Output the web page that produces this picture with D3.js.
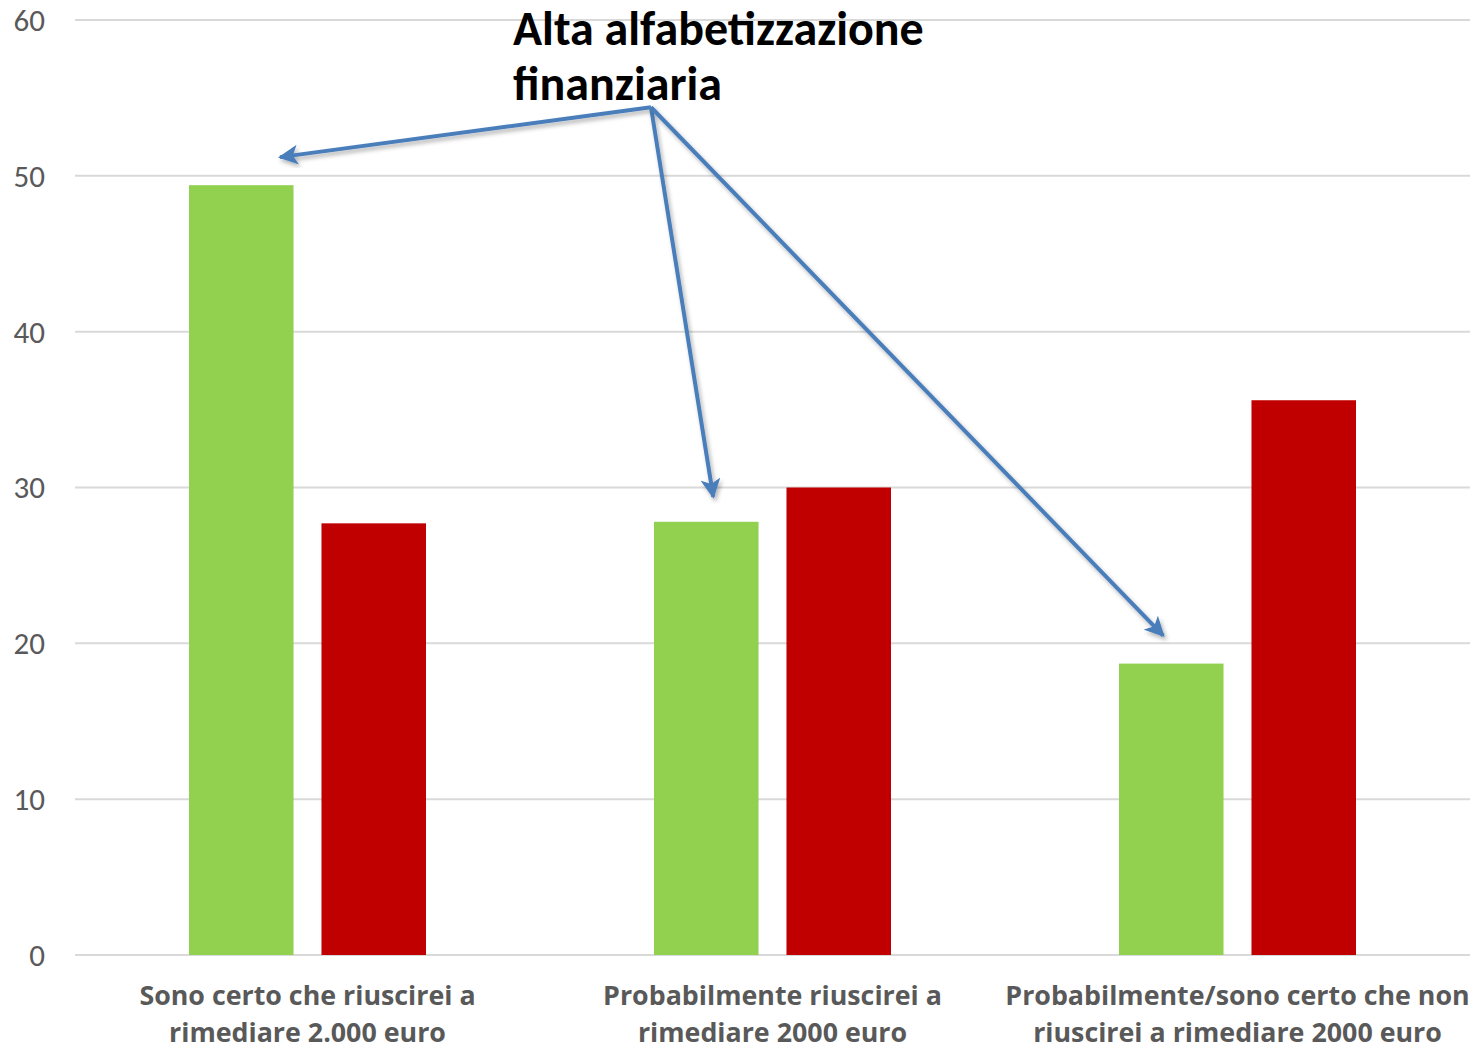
<!DOCTYPE html>
<html>
<head>
    <meta charset="UTF-8">
    <script src="https://d3js.org/d3.v7.min.js"></script>
    <style>
        body { margin: 0; background: #fff; overflow: hidden; }
        text { font-family: Carlito, Lato, "Open Sans", sans-serif; }
        .grid line { stroke: #d9d9d9; stroke-width: 2px; }
        .ytick { fill: #595959; font-size: 31px; }
        .xlab { fill: #595959; font-size: 26.8px; font-weight: bold; font-family: "Open Sans", sans-serif; }
        .title { fill: #000; font-size: 48px; font-weight: bold; }
    </style>
</head>
<body>
    <svg id="chart" style="display:block"></svg>
    <script>
        let width = 1474, height = 1049;

        // data
        let categories = [
            ["Sono certo che riuscirei a", "rimediare 2.000 euro"],
            ["Probabilmente riuscirei a", "rimediare 2000 euro"],
            ["Probabilmente/sono certo che non", "riuscirei a rimediare 2000 euro"]
        ];
        let series = ["Alta alfabetizzazione finanziaria", "Bassa alfabetizzazione finanziaria"];
        let altaValues = [49.4, 27.8, 18.7];
        let bassaValues = [27.7, 30.0, 35.6];
        let yTicks = [0, 10, 20, 30, 40, 50, 60];
        let titleLines = ["Alta alfabetizzazione", "finanziaria"];
        let colors = ["#92d050", "#c00000"];

        let margin = { top: 20, right: 4, bottom: 94, left: 75 };
        let innerW = width - margin.left - margin.right;
        let innerH = height - margin.top - margin.bottom;

        let svg = d3.select("#chart")
            .attr("width", width)
            .attr("height", height);

        let defs = svg.append("defs");
        let shadow = defs.append("filter").attr("id", "shadow")
            .attr("x", "-20%").attr("y", "-20%").attr("width", "140%").attr("height", "140%");
        shadow.append("feDropShadow")
            .attr("dx", 2).attr("dy", 3).attr("stdDeviation", 2)
            .attr("flood-color", "#000").attr("flood-opacity", 0.3);
        defs.append("marker")
            .attr("id", "head")
            .attr("viewBox", "0 0 10 10")
            .attr("refX", 9).attr("refY", 5)
            .attr("markerWidth", 5).attr("markerHeight", 5)
            .attr("markerUnits", "strokeWidth")
            .attr("orient", "auto")
            .append("path")
            .attr("d", "M0,0 L10,5 L0,10 L2.5,5 Z")
            .attr("fill", "#4a7ebb");

        let g = svg.append("g").attr("transform", `translate(${margin.left},${margin.top})`);

        let idx = d3.range(categories.length);
        let x0 = d3.scaleBand().domain(idx).range([0, innerW]);
        let x1 = d3.scaleBand().domain([0, 1]).range([114, 351]).paddingInner(0.211);
        let y = d3.scaleLinear().domain([0, 60]).range([innerH, 0]);

        // gridlines
        g.append("g").attr("class", "grid")
            .selectAll("line").data(yTicks).enter().append("line")
            .attr("x1", 0).attr("x2", innerW)
            .attr("y1", d => y(d)).attr("y2", d => y(d));

        // y tick labels
        g.append("g").selectAll("text").data(yTicks).enter().append("text")
            .attr("class", "ytick")
            .attr("x", -30)
            .attr("y", d => y(d))
            .attr("dy", "0.35em")
            .attr("text-anchor", "end")
            .text(d => d);

        // bars
        let rows = idx.map(i => [altaValues[i], bassaValues[i]]);
        let groups = g.append("g").selectAll("g").data(rows).enter().append("g")
            .attr("transform", (d, i) => `translate(${x0(i)},0)`);
        groups.selectAll("rect").data(d => d).enter().append("rect")
            .attr("x", (d, j) => x1(j))
            .attr("width", x1.bandwidth())
            .attr("y", d => y(d))
            .attr("height", d => innerH - y(d))
            .attr("fill", (d, j) => colors[j]);

        // category labels
        let labels = g.append("g").selectAll("text").data(categories).enter().append("text")
            .attr("class", "xlab")
            .attr("text-anchor", "middle")
            .attr("transform", (d, i) => `translate(${x0(i) + x0.bandwidth() / 2},${innerH + 50})`);
        labels.selectAll("tspan").data(d => d).enter().append("tspan")
            .attr("x", 0)
            .attr("y", (d, k) => k * 37)
            .text(d => d);

        // annotation
        let ann = g.append("g");
        ann.selectAll("text").data(titleLines).enter().append("text")
            .attr("class", "title")
            .attr("x", 438)
            .attr("y", (d, k) => 25 + k * 55)
            .text(d => d);

        // arrows from the title to the green bars
        let origin = [576, y(54.4)];
        let targets = [
            [x0(0) + x1(0) + 91, 51.2],
            [x0(1) + x1(0) + x1.bandwidth() / 2 + 7, 29.4],
            [x0(2) + x1(0) + x1.bandwidth() / 2 - 8, 20.5]
        ];
        ann.selectAll("line.arrow").data(targets).enter().append("line")
            .attr("class", "arrow")
            .attr("x1", origin[0]).attr("y1", origin[1])
            .attr("x2", d => d[0]).attr("y2", d => y(d[1]))
            .attr("stroke", "#4a7ebb")
            .attr("stroke-width", 4)
            .attr("marker-end", "url(#head)")
            .attr("filter", "url(#shadow)");
    </script>
</body>
</html>
